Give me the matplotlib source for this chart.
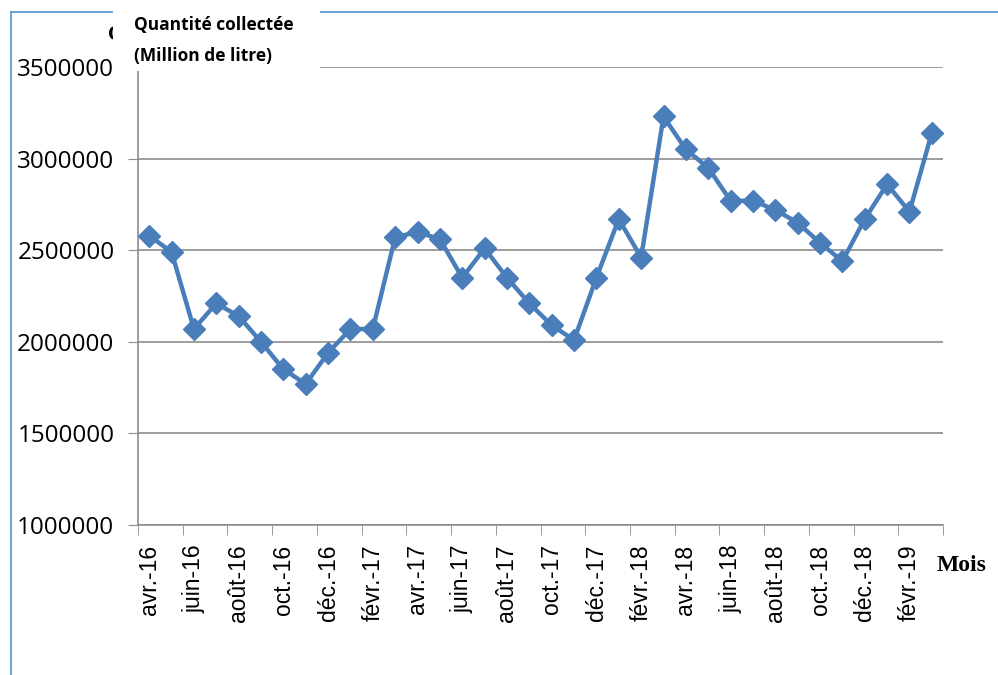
import matplotlib.pyplot as plt
from matplotlib.patches import Rectangle
from matplotlib.lines import Line2D

# Mois (avr.-16 à mars-19) et quantités collectées
mois = ['avr.-16', 'mai-16', 'juin-16', 'juil.-16', 'août-16', 'sept.-16',
        'oct.-16', 'nov.-16', 'déc.-16', 'janv.-17', 'févr.-17', 'mars-17',
        'avr.-17', 'mai-17', 'juin-17', 'juil.-17', 'août-17', 'sept.-17',
        'oct.-17', 'nov.-17', 'déc.-17', 'janv.-18', 'févr.-18', 'mars-18',
        'avr.-18', 'mai-18', 'juin-18', 'juil.-18', 'août-18', 'sept.-18',
        'oct.-18', 'nov.-18', 'déc.-18', 'janv.-19', 'févr.-19', 'mars-19']
quantite = [2580000, 2490000, 2070000, 2210000, 2140000, 2000000,
            1850000, 1770000, 1940000, 2070000, 2070000, 2570000,
            2600000, 2560000, 2350000, 2510000, 2350000, 2210000,
            2090000, 2010000, 2350000, 2670000, 2460000, 3230000,
            3050000, 2950000, 2770000, 2770000, 2720000, 2650000,
            2540000, 2440000, 2670000, 2860000, 2710000, 3140000]
yticks = [1000000, 1500000, 2000000, 2500000, 3000000, 3500000]

fig = plt.figure(figsize=(9.98, 6.75), dpi=100)
ax = fig.add_axes([0.1383, 0.2222, 0.8066, 0.6785])

x = list(range(len(mois)))
ax.plot(x, quantite, color='#4a7ebb', lw=3.2, marker='D', markersize=11,
        markeredgecolor='#4a7ebb', markerfacecolor='#4a7ebb', zorder=3)

ax.set_xlim(-0.5, len(mois) - 0.5)
ax.set_ylim(1000000, 3500000)
ax.set_yticks(yticks)
ax.set_yticklabels([str(v) for v in yticks], fontsize=17.5, family='Open Sans')
ax.grid(axis='y', color='#8c8c8c', lw=1.2)
ax.set_axisbelow(True)

# étiquettes tous les 2 mois, graduations entre les catégories
ax.set_xticks(x[::2])
ax.set_xticklabels(mois[::2], rotation=90, fontsize=16.5, family='Liberation Sans')
ax.set_xticks([i - 0.5 for i in range(0, len(mois) + 1, 2)], minor=True)
ax.tick_params(axis='x', which='major', length=0, pad=14)
ax.tick_params(axis='x', which='minor', length=7, color='#8c8c8c')
ax.tick_params(axis='y', length=7, color='#8c8c8c', pad=10)

for s in ['top', 'right']:
    ax.spines[s].set_visible(False)
ax.spines['left'].set_color('#8c8c8c')
ax.spines['bottom'].set_color('#8c8c8c')
ax.spines['left'].set_linewidth(1.2)
ax.spines['bottom'].set_linewidth(1.2)

# cadre bleu clair (gauche et haut)
fig.add_artist(Line2D([0.011, 0.011], [0, 0.982], color='#5b9bd5', lw=1.3))
fig.add_artist(Line2D([0.011, 1.0], [0.982, 0.982], color='#5b9bd5', lw=1.3))

# titre d'axe original partiellement masqué
fig.text(0.108, 0.948, 'C', fontsize=15, fontweight='bold', family='Liberation Serif',
         ha='left', va='center')
fig.add_artist(Rectangle((0.113, 0.895), 0.208, 0.105, transform=fig.transFigure,
                         facecolor='white', edgecolor='none', zorder=5))
fig.text(0.134, 0.963, 'Quantité collectée', fontsize=12.5, fontweight='bold',
         family='Open Sans', ha='left', va='center', zorder=6)
fig.text(0.134, 0.917, '(Million de litre)', fontsize=12.5, fontweight='bold',
         family='Open Sans', ha='left', va='center', zorder=6)

fig.text(0.938, 0.162, 'Mois', fontsize=17, fontweight='bold',
         family='Liberation Serif', ha='left', va='center')

plt.savefig('out.png', dpi=100)
